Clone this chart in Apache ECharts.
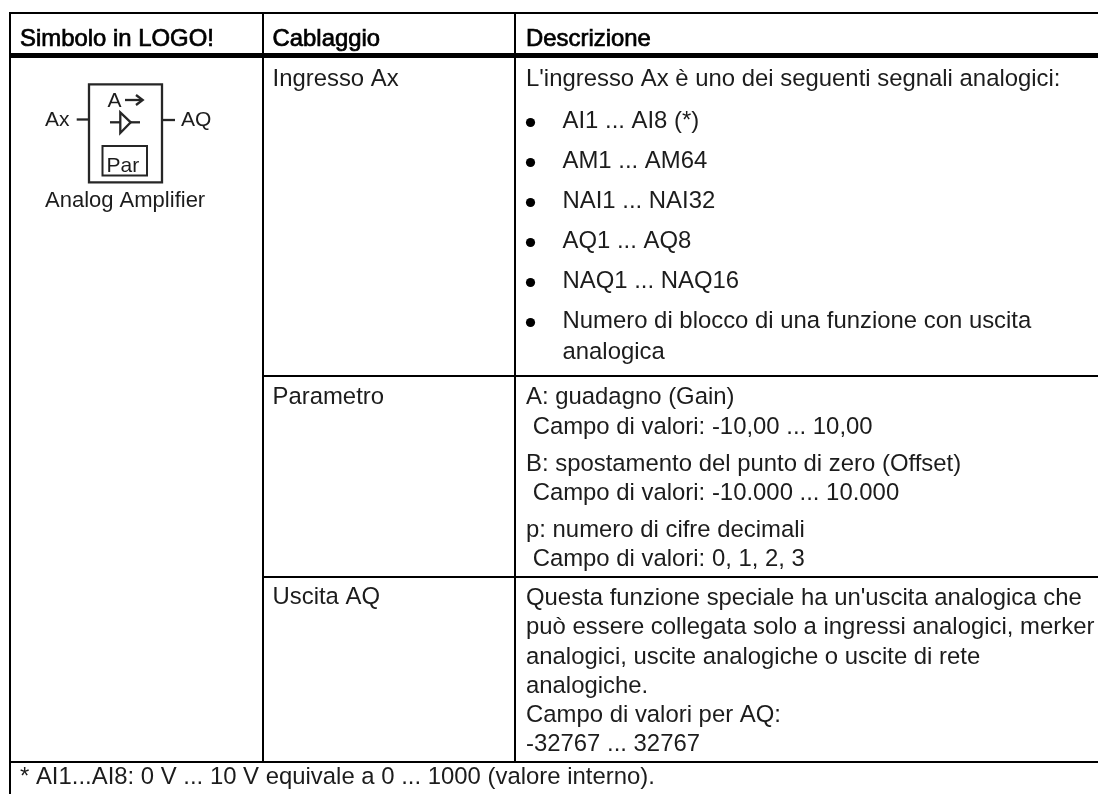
<!DOCTYPE html>
<html><head><meta charset="utf-8">
<style>html,body{margin:0;padding:0;background:#fff}#c{width:1098px;height:794px}</style>
<script src="https://cdn.jsdelivr.net/npm/echarts@6/dist/echarts.min.js"></script>
</head><body><div id="c"></div>
<script>
const headers = ["Simbolo in LOGO!", "Cablaggio", "Descrizione"];
const rowNames = ["Ingresso Ax", "Parametro", "Uscita AQ"];
const introLine = "L'ingresso Ax è uno dei seguenti segnali analogici:";
const bullets = ["AI1 ... AI8 (*)", "AM1 ... AM64", "NAI1 ... NAI32", "AQ1 ... AQ8", "NAQ1 ... NAQ16", "Numero di blocco di una funzione con uscita"];
const bulletCont = "analogica";
const paramLines = ["A: guadagno (Gain)", " Campo di valori: -10,00 ... 10,00", "B: spostamento del punto di zero (Offset)", " Campo di valori: -10.000 ... 10.000", "p: numero di cifre decimali", " Campo di valori: 0, 1, 2, 3"];
const paramBase = [405.5, 435, 472, 501, 538, 567];
const outLines = ["Questa funzione speciale ha un'uscita analogica che", "può essere collegata solo a ingressi analogici, merker", "analogici, uscite analogiche o uscite di rete", "analogiche.", "Campo di valori per AQ:", "-32767 ... 32767"];
const footnote = "* AI1...AI8: 0 V ... 10 V equivale a 0 ... 1000 (valore interno).";
const symbolTexts = {input:"Ax", output:"AQ", param:"A", par:"Par", name:"Analog Amplifier"};

const FONT = '"Liberation Sans", Arial, sans-serif', FS = 23.9, INK = '#1c1c1c', SYM = '#262626';
const g = [];
const text = (s, x, y, o={}) => { const fs=o.fs||FS; g.push({type:'text', silent:true, style:Object.assign({
  text:s, x, y:y-fs*0.82, fill:INK, font:`${fs}px ${FONT}`}, o.bold?{stroke:'#000',lineWidth:0.7,fill:'#000'}:{})}); };
const line = (x1,y1,x2,y2,w=2,c='#000') => g.push({type:'line', silent:true, shape:{x1,y1,x2,y2}, style:{stroke:c,lineWidth:w}});

// grid
const W=1098, L=10, C2=263, C3=515;
line(L-1,13,W,13,2);
line(L-1,55.5,W,55.5,5);
line(C2,376,W,376,2);
line(C2,577,W,577,2);
line(L-1,762,W,762,2);
line(L,12,L,794,2);
line(C2,12,C2,762,2);
line(C3,12,C3,762,2);

// header
[20,272.5,526].forEach((x,i)=>text(headers[i],x,47.5,{bold:true}));
// col 2
[87.5,405.5,605.5].forEach((y,i)=>text(rowNames[i],272.5,y));
// col 3
text(introLine,526,87.5);
const bulletBase=[129,169,209,249,289,329];
bullets.forEach((b,i)=>{
  g.push({type:'circle',silent:true,shape:{cx:530.5,cy:bulletBase[i]-6.5,r:4.6},style:{fill:'#000'}});
  text(b,562.5,bulletBase[i]);
});
text(bulletCont,562.5,360.5);
paramLines.forEach((s,i)=>text(s,526,paramBase[i]));
outLines.forEach((s,i)=>text(s,526,606+i*29.3));
text(footnote,20,785);

// symbol
g.push({type:'rect',silent:true,shape:{x:89,y:84.3,width:73,height:98},style:{fill:'none',stroke:SYM,lineWidth:2.3}});
g.push({type:'rect',silent:true,shape:{x:102.5,y:146,width:44.5,height:29.5},style:{fill:'none',stroke:SYM,lineWidth:2}});
line(76.7,119.5,88.5,119.5,2.3,SYM); line(162.5,120,175,120,2.3,SYM);
text(symbolTexts.input,45,126.5,{fs:21});
text(symbolTexts.output,181,126.5,{fs:21});
text(symbolTexts.param,107.5,108,{fs:21});
text(symbolTexts.par,106.5,173,{fs:21});
text(symbolTexts.name,45,207.5,{fs:22});
line(125,100,142,100,2.3,SYM);
g.push({type:'polyline',silent:true,shape:{points:[[136,95],[142.7,100],[136,105]]},style:{fill:'none',stroke:SYM,lineWidth:2.3}});
line(110,122.3,140,122.3,2.3,SYM);
g.push({type:'polygon',silent:true,shape:{points:[[120.3,112.5],[120.3,133],[130.7,122.3]]},style:{fill:'#fff',stroke:SYM,lineWidth:2.3}});

const chart = echarts.init(document.getElementById('c'),null,{renderer:'canvas'});
chart.setOption({animation:false,backgroundColor:'#fff',graphic:{elements:g}});
</script></body></html>
